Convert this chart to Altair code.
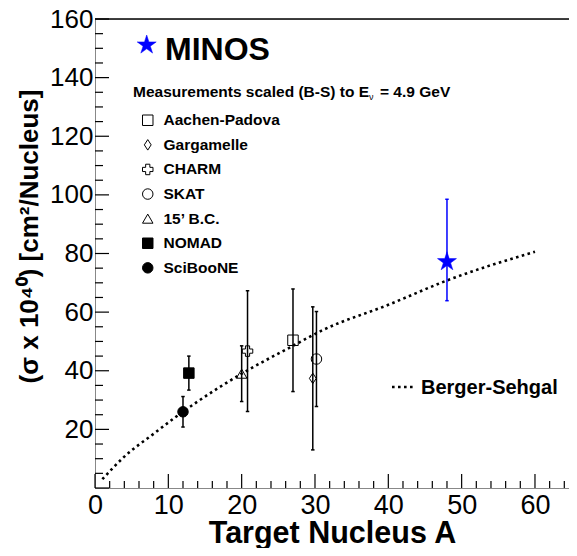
import altair as alt
import pandas as pd

FONT = "Liberation Sans"

# ---- data ----
experiments = ["Aachen-Padova", "Gargamelle", "CHARM", "SKAT", "15\u2019 B.C.", "NOMAD", "SciBooNE"]
exp_A = [27.0, 29.7, 20.8, 30.2, 20.0, 12.8, 12.0]
exp_sigma = [50.4, 37.4, 46.7, 44.0, 39.0, 39.2, 26.0]
exp_err = [17.5, 24.4, 20.6, 16.2, 9.5, 5.8, 5.2]

minos_A = [48.0]
minos_sigma = [77.2]
minos_lo = [63.9]
minos_hi = [98.5]

bs_A = [1, 4, 8, 11, 14, 20, 27, 31, 40, 48, 60]
bs_sigma = [3.0, 10.7, 18.5, 24.2, 29.5, 39.0, 48.5, 53.8, 62.5, 70.8, 80.6]

x_major = [0, 10, 20, 30, 40, 50, 60]
x_minor = [v for v in range(2, 66, 2) if v % 10 != 0 and v < 64.6]
y_labels = [20, 40, 60, 80, 100, 120, 140, 160]
y_major = [0] + y_labels
y_minor = [v for v in range(5, 160, 5) if v % 20 != 0]

shapes = ["square", "M0,-1L0.65,0L0,1L-0.65,0Z", "cross", "circle", "triangle-up", "square", "circle"]
fills = ["transparent"] * 5 + ["black", "black"]
strokes = ["black"] * 7
STAR = ("M0,-1L0.2245,-0.309L0.9511,-0.309L0.3633,0.118L0.5878,0.809L0,0.382"
        "L-0.5878,0.809L-0.3633,0.118L-0.9511,-0.309L-0.2245,-0.309Z")

W, H = 474, 469

exp_df = pd.DataFrame({"exp": experiments, "A": exp_A, "sigma": exp_sigma, "err": exp_err})
exp_df["lo"] = exp_df["sigma"] - exp_df["err"]
exp_df["hi"] = exp_df["sigma"] + exp_df["err"]
minos_df = pd.DataFrame({"A": minos_A, "sigma": minos_sigma, "lo": minos_lo, "hi": minos_hi})
bs_df = pd.DataFrame({"A": bs_A, "sigma": bs_sigma})

xscale = alt.Scale(domain=[0, 64.64], nice=False, zero=False)
yscale = alt.Scale(domain=[0, 160], nice=False, zero=False)
xaxis = alt.Axis(values=x_major, ticks=False, grid=False, labelFontSize=27, labelPadding=4,
                 labelFlush=False, labelOverlap=False,
                 title="Target Nucleus A", titleFontSize=30.5, titlePadding=0)
yaxis = alt.Axis(values=y_labels, ticks=False, grid=False, labelFontSize=26, labelPadding=2,
                 labelOverlap=False,
                 title="(\u03c3 x 10\u2074\u2070) [cm\u00b2/Nucleus]", titleFontSize=26,
                 titleX=-66, titleY=217, titleAngle=270, titleAlign="center", titleBaseline="middle")


def X(f):
    return alt.X(f, type="quantitative", scale=xscale, axis=xaxis)


def Y(f):
    return alt.Y(f, type="quantitative", scale=yscale, axis=yaxis)


# Berger-Sehgal curve
curve = alt.Chart(bs_df).mark_line(color="black", strokeWidth=2.6, strokeDash=[2.6, 3.4],
                                   interpolate="monotone", strokeCap="butt").encode(x=X("A"), y=Y("sigma"))

# error bars
ebars = alt.Chart(exp_df).mark_rule(color="black", strokeWidth=1.5).encode(x=X("A"), y=Y("lo"), y2="hi")
cap_lo = alt.Chart(exp_df).mark_point(shape="stroke", size=12, stroke="black", strokeWidth=1.5,
                                      opacity=1).encode(x=X("A"), y=Y("lo"))
cap_hi = alt.Chart(exp_df).mark_point(shape="stroke", size=12, stroke="black", strokeWidth=1.5,
                                      opacity=1).encode(x=X("A"), y=Y("hi"))

leg = dict(orient="none", legendX=45, legendY=93.5, title=None, labelFont=FONT,
           labelFontSize=15.5, labelFontWeight="bold", labelColor="black", symbolSize=110,
           symbolStrokeWidth=1, labelOffset=8, rowPadding=7.6, padding=0)
points = alt.Chart(exp_df).mark_point(size=110, strokeWidth=1, opacity=1,
                                      fillOpacity=1).encode(
    x=X("A"), y=Y("sigma"),
    shape=alt.Shape("exp:N", scale=alt.Scale(domain=experiments, range=shapes), legend=alt.Legend(**leg)),
    fill=alt.Fill("exp:N", scale=alt.Scale(domain=experiments, range=fills), legend=alt.Legend(**leg)),
    stroke=alt.Stroke("exp:N", scale=alt.Scale(domain=experiments, range=strokes), legend=alt.Legend(**leg)),
)

# MINOS
m_bar = alt.Chart(minos_df).mark_rule(color="#0000ff", strokeWidth=1.5).encode(x=X("A"), y=Y("lo"), y2="hi")
m_cap_lo = alt.Chart(minos_df).mark_point(shape="stroke", size=12, stroke="#0000ff", strokeWidth=1.5,
                                          opacity=1).encode(x=X("A"), y=Y("lo"))
m_cap_hi = alt.Chart(minos_df).mark_point(shape="stroke", size=12, stroke="#0000ff", strokeWidth=1.5,
                                          opacity=1).encode(x=X("A"), y=Y("hi"))
m_star = alt.Chart(minos_df).mark_point(shape=STAR, size=400, filled=True, fill="#0000ff",
                                        stroke="#0000ff", strokeWidth=0.5, opacity=1).encode(
    x=X("A"), y=Y("sigma"))

# inward ticks
ymaj = alt.Chart(pd.DataFrame({"v": y_major})).mark_rule(color="black", strokeWidth=1.2).encode(
    y=Y("v"), x=alt.value(0), x2=alt.value(14))
ymin = alt.Chart(pd.DataFrame({"v": y_minor})).mark_rule(color="black", strokeWidth=1.2).encode(
    y=Y("v"), x=alt.value(0), x2=alt.value(8))
xmaj = alt.Chart(pd.DataFrame({"v": x_major})).mark_rule(color="black", strokeWidth=1.2).encode(
    x=X("v"), y=alt.value(H), y2=alt.value(H - 14))
xmin = alt.Chart(pd.DataFrame({"v": x_minor})).mark_rule(color="black", strokeWidth=1.2).encode(
    x=X("v"), y=alt.value(H), y2=alt.value(H - 7))

one = pd.DataFrame({"k": [0]})
top = alt.Chart(one).mark_rule(color="black", strokeWidth=1.4).encode(
    x=alt.value(0), x2=alt.value(W), y=alt.value(0))

# annotations
minos_sym = alt.Chart(one).mark_point(shape=STAR, size=400, filled=True, fill="#0000ff",
                                      stroke="#0000ff", strokeWidth=0.5, opacity=1).encode(
    x=alt.value(51.7), y=alt.value(26))
minos_txt = alt.Chart(one).mark_text(text="MINOS", font=FONT, fontWeight="bold", fontSize=32,
                                     align="left", baseline="alphabetic", color="black").encode(
    x=alt.value(70), y=alt.value(41))
t1 = alt.Chart(one).mark_text(text="Measurements scaled (B-S) to E", font=FONT, fontWeight="bold",
                              fontSize=15.5, align="left", baseline="alphabetic", color="black").encode(
    x=alt.value(38), y=alt.value(78))
t2 = alt.Chart(one).mark_text(text="\u03bd", font=FONT, fontWeight="normal", fontSize=9,
                              align="left", baseline="alphabetic", color="black").encode(
    x=alt.value(274), y=alt.value(81))
t3 = alt.Chart(one).mark_text(text="= 4.9 GeV", font=FONT, fontWeight="bold",
                              fontSize=15.5, align="left", baseline="alphabetic", color="black").encode(
    x=alt.value(285), y=alt.value(78))
bs_line = alt.Chart(one).mark_rule(color="black", strokeWidth=2.6, strokeDash=[2.6, 3.4]).encode(
    x=alt.value(297), x2=alt.value(321), y=alt.value(368))
bs_txt = alt.Chart(one).mark_text(text="Berger-Sehgal", font=FONT, fontWeight="bold", fontSize=20,
                                  align="left", baseline="alphabetic", color="black").encode(
    x=alt.value(326), y=alt.value(375))

chart = alt.layer(
    curve, ebars, cap_lo, cap_hi, points, m_bar, m_cap_lo, m_cap_hi, m_star,
    ymaj, ymin, xmaj, xmin, top,
    minos_sym, minos_txt, t1, t2, t3, bs_line, bs_txt,
).properties(
    width=W, height=H,
    autosize=alt.AutoSizeParams(type="none"),
    padding={"left": 87, "top": 11, "right": 0, "bottom": 60},
).configure_view(stroke=None).configure_axis(
    labelFont=FONT, titleFont=FONT, labelFontWeight="bold", titleFontWeight="bold",
    labelColor="black", titleColor="black", domainColor="black", domainWidth=1.4,
).configure(background="white")

chart.save("out.html", embed_options={"renderer": "svg", "actions": False})
